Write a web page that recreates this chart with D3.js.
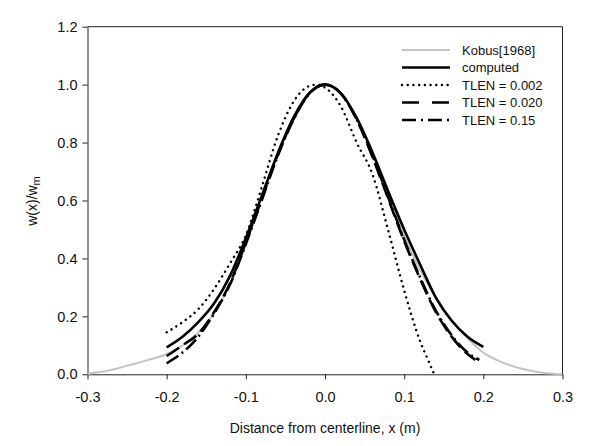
<!DOCTYPE html>
<html>
<head>
<meta charset="utf-8">
<script src="https://cdn.jsdelivr.net/npm/d3@7"></script>
<style>
  html, body { margin: 0; padding: 0; background: #fff; }
  svg { display: block; font-family: "Liberation Sans", Arial, sans-serif; }
</style>
</head>
<body>
<svg id="chart" width="594" height="446"></svg>
<script>
// ---- data ----
const xTicks = [-0.3, -0.2, -0.1, 0.0, 0.1, 0.2, 0.3];
const yTicks = [0.0, 0.2, 0.4, 0.6, 0.8, 1.0, 1.2];

const kobusX = [-0.3, -0.275, -0.25, -0.225, -0.2, -0.175, -0.15, -0.125, -0.1, -0.075, -0.05, -0.025, 0, 0.025, 0.05, 0.075, 0.1, 0.125, 0.15, 0.175, 0.2, 0.225, 0.25, 0.275, 0.3];
const kobusY = [0.002, 0.012, 0.03, 0.048, 0.07, 0.11, 0.175, 0.285, 0.455, 0.655, 0.83, 0.955, 1.0, 0.955, 0.83, 0.67, 0.48, 0.335, 0.225, 0.14, 0.075, 0.04, 0.018, 0.005, 0.0];

const computedX = [-0.2, -0.18, -0.16, -0.14, -0.12, -0.1, -0.08, -0.06, -0.04, -0.02, 0, 0.02, 0.04, 0.06, 0.08, 0.1, 0.12, 0.14, 0.16, 0.18, 0.2];
const computedY = [0.093, 0.13, 0.18, 0.245, 0.34, 0.47, 0.615, 0.76, 0.885, 0.97, 1.0, 0.97, 0.885, 0.765, 0.63, 0.5, 0.38, 0.265, 0.185, 0.13, 0.095];

const tlen002X = [-0.2, -0.18, -0.16, -0.14, -0.12, -0.1, -0.08, -0.06, -0.04, -0.02, -0.01, 0, 0.02, 0.04, 0.06, 0.08, 0.1, 0.12, 0.13, 0.138];
const tlen002Y = [0.145, 0.18, 0.225, 0.295, 0.383, 0.48, 0.645, 0.82, 0.94, 0.995, 1.0, 0.99, 0.925, 0.80, 0.69, 0.495, 0.29, 0.115, 0.05, 0.0];

const tlen020X = [-0.2, -0.18, -0.16, -0.14, -0.12, -0.1, -0.08, -0.06, -0.04, -0.02, 0, 0.02, 0.04, 0.06, 0.08, 0.1, 0.12, 0.14, 0.16, 0.18, 0.19];
const tlen020Y = [0.063, 0.10, 0.14, 0.215, 0.315, 0.455, 0.605, 0.755, 0.88, 0.97, 1.0, 0.97, 0.88, 0.75, 0.605, 0.46, 0.33, 0.215, 0.13, 0.07, 0.05];

const tlen15X = [-0.2, -0.18, -0.16, -0.14, -0.12, -0.1, -0.08, -0.06, -0.04, -0.02, 0, 0.02, 0.04, 0.06, 0.08, 0.1, 0.12, 0.14, 0.16, 0.18, 0.195];
const tlen15Y = [0.038, 0.075, 0.13, 0.21, 0.31, 0.45, 0.60, 0.752, 0.878, 0.968, 1.0, 0.97, 0.88, 0.755, 0.61, 0.465, 0.335, 0.22, 0.135, 0.075, 0.05];

const seriesNames = ["Kobus[1968]", "computed", "TLEN = 0.002", "TLEN = 0.020", "TLEN = 0.15"];

// ---- styles ----
const styles = [
  { stroke: "#c4c4c4", width: 2, dash: null, legDash: null, cap: "butt" },
  { stroke: "#000", width: 2.6, dash: null, legDash: null, cap: "butt" },
  { stroke: "#000", width: 2.4, dash: "0.1,5.6", legDash: "0.1,5.6", cap: "round" },
  { stroke: "#000", width: 2.6, dash: "15,6", legDash: "17,13", cap: "butt" },
  { stroke: "#000", width: 2.6, dash: "14,4,2,4", legDash: "14,5,2,5", cap: "butt" }
];

const series = [
  kobusX.map((v, i) => [v, kobusY[i]]),
  computedX.map((v, i) => [v, computedY[i]]),
  tlen002X.map((v, i) => [v, tlen002Y[i]]),
  tlen020X.map((v, i) => [v, tlen020Y[i]]),
  tlen15X.map((v, i) => [v, tlen15Y[i]])
];

const svg = d3.select("#chart");
const pLeft = 87.5, pRight = 562.5, pTop = 26.7, pBottom = 374.3;

const xs = d3.scaleLinear().domain([-0.3, 0.3]).range([pLeft, pRight]);
const ys = d3.scaleLinear().domain([0, 1.2]).range([pBottom, pTop]);

const fmt = d => d.toFixed(1);

// frame (top and right)
svg.append("path")
  .attr("d", `M${pLeft},${pTop}H${pRight}V${pBottom}`)
  .attr("fill", "none").attr("stroke", "#222").attr("stroke-width", 1);

// axes
const gx = svg.append("g").attr("transform", `translate(0,${pBottom})`)
  .call(d3.axisBottom(xs).tickValues(xTicks).tickFormat(fmt).tickSize(5).tickSizeOuter(0).tickPadding(12));
const gy = svg.append("g").attr("transform", `translate(${pLeft},0)`)
  .call(d3.axisLeft(ys).tickValues(yTicks).tickFormat(fmt).tickSize(5).tickSizeOuter(0).tickPadding(5));
[gx, gy].forEach(g => {
  g.selectAll("text").attr("font-size", 14.5).attr("fill", "#111")
    .attr("font-family", "'Liberation Sans', Arial, sans-serif");
  g.selectAll("line").attr("stroke", "#222");
  g.select(".domain").attr("stroke", "#222");
});

// curves
svg.append("clipPath").attr("id", "plotclip")
  .append("rect").attr("x", pLeft).attr("y", pTop).attr("width", pRight - pLeft).attr("height", pBottom - pTop + 1);

const line = d3.line().x(d => xs(d[0])).y(d => ys(d[1])).curve(d3.curveMonotoneX);
const plot = svg.append("g").attr("clip-path", "url(#plotclip)");
series.forEach((s, i) => {
  const st = styles[i];
  plot.append("path")
    .attr("d", line(s))
    .attr("fill", "none")
    .attr("stroke", st.stroke)
    .attr("stroke-width", st.width)
    .attr("stroke-linecap", st.cap)
    .attr("stroke-linejoin", "round")
    .attr("stroke-dasharray", st.dash);
});

// legend
const legY = [50, 67.5, 85, 102.5, 120];
const leg = svg.append("g");
seriesNames.forEach((name, i) => {
  const st = styles[i];
  leg.append("line")
    .attr("x1", 402).attr("x2", 450)
    .attr("y1", legY[i]).attr("y2", legY[i])
    .attr("stroke", st.stroke).attr("stroke-width", st.width)
    .attr("stroke-linecap", st.cap)
    .attr("stroke-dasharray", st.legDash);
  leg.append("text")
    .attr("x", 462).attr("y", legY[i] + 4.6)
    .attr("font-size", 13).attr("fill", "#111")
    .text(name);
});

// axis titles
svg.append("text")
  .attr("x", (pLeft + pRight) / 2).attr("y", 433)
  .attr("text-anchor", "middle").attr("font-size", 14).attr("fill", "#111")
  .text("Distance from centerline, x (m)");

const yl = svg.append("text")
  .attr("transform", "translate(37,201) rotate(-90)")
  .attr("text-anchor", "middle").attr("font-size", 14).attr("fill", "#111");
yl.append("tspan").text("w(x)/w");
yl.append("tspan").attr("font-size", 11).attr("dy", 3).text("m");
</script>
</body>
</html>
